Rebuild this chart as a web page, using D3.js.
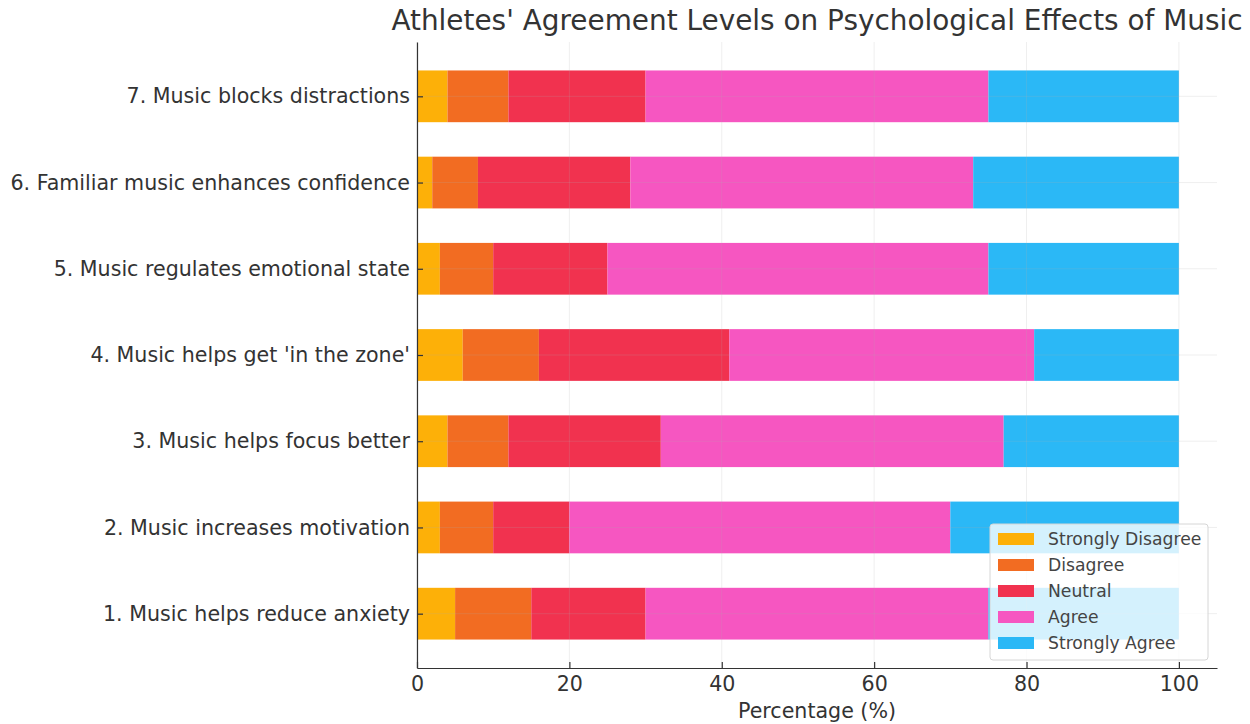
<!DOCTYPE html>
<html><head><meta charset="utf-8">
<script src="https://cdn.jsdelivr.net/npm/d3@7"></script>
<style>body{margin:0;background:#fff;}svg{display:block;font-family:"DejaVu Sans",sans-serif;}</style>
</head><body>
<svg id="chart" width="1250" height="724"></svg>
<script>
const title = "Athletes' Agreement Levels on Psychological Effects of Music";
const xLabel = "Percentage (%)";
const statements = [
  "1. Music helps reduce anxiety",
  "2. Music increases motivation",
  "3. Music helps focus better",
  "4. Music helps get 'in the zone'",
  "5. Music regulates emotional state",
  "6. Familiar music enhances confidence",
  "7. Music blocks distractions"
];
const levels = ["Strongly Disagree", "Disagree", "Neutral", "Agree", "Strongly Agree"];
const stronglyDisagree = [5, 3, 4, 6, 3, 2, 4];
const disagree         = [10, 7, 8, 10, 7, 6, 8];
const neutral          = [15, 10, 20, 25, 15, 20, 18];
const agree            = [45, 50, 45, 40, 50, 45, 45];
const stronglyAgree    = [25, 30, 23, 19, 25, 27, 25];
const xTicks = [0, 20, 40, 60, 80, 100];
const colors = ["#FDB008", "#F26C22", "#F1324F", "#F656C1", "#2BB8F6"];

(function () {
const series = [stronglyDisagree, disagree, neutral, agree, stronglyAgree];
const rows = statements.map((s, i) => {
  const r = {statement: s, idx: i};
  levels.forEach((l, k) => r[l] = series[k][i]);
  return r;
});
const stacked = d3.stack().keys(levels)(rows);

const svg = d3.select("#chart");
const mLeft = 417, mRight = 1217, mTop = 42, mBottom = 668;
const x = d3.scaleLinear().domain([0, 105]).range([mLeft, mRight]);
const y = d3.scaleLinear().domain([-0.63, 6.63]).range([mBottom, mTop]);
const barH = (y(0) - y(0.6));
const color = d3.scaleOrdinal().domain(levels).range(colors);
const txt = "#333";
const fs = 20.6;

// bars
svg.append("g").selectAll("g").data(stacked).join("g")
  .attr("fill", d => color(d.key))
  .selectAll("rect").data(d => d).join("rect")
  .attr("x", d => x(d[0]))
  .attr("width", d => x(d[1]) - x(d[0]))
  .attr("y", d => y(d.data.idx) - barH / 2)
  .attr("height", barH);

// grid (drawn above bars, faint)
const grid = svg.append("g").attr("stroke", "#b0b0b0").attr("stroke-opacity", 0.25).attr("stroke-width", 0.8);
xTicks.forEach(t => grid.append("line").attr("x1", x(t)).attr("x2", x(t)).attr("y1", mTop).attr("y2", mBottom));
statements.forEach((s, i) => grid.append("line").attr("x1", mLeft).attr("x2", mRight).attr("y1", y(i)).attr("y2", y(i)));

// x axis
const xAxis = d3.axisBottom(x).tickValues(xTicks).tickSizeInner(-6).tickSizeOuter(0).tickPadding(8);
const gx = svg.append("g").attr("transform", `translate(0,${mBottom})`).call(xAxis);
gx.select(".domain").attr("stroke", txt).attr("stroke-width", 1.2);
gx.selectAll(".tick line").attr("stroke", txt).attr("stroke-width", 1.2);
gx.selectAll("text").attr("font-size", fs).attr("fill", txt).attr("font-family", "DejaVu Sans").attr("dy", "0.71em");

// y axis
const yAxis = d3.axisLeft(y).tickValues(d3.range(statements.length)).tickFormat(i => statements[i])
  .tickSizeInner(-6).tickSizeOuter(0).tickPadding(7);
const gy = svg.append("g").attr("transform", `translate(${mLeft},0)`).call(yAxis);
gy.select(".domain").attr("stroke", txt).attr("stroke-width", 1.2);
gy.selectAll(".tick line").attr("stroke", txt).attr("stroke-width", 1.2);
gy.selectAll("text").attr("font-size", fs).attr("fill", txt).attr("font-family", "DejaVu Sans");

// x label
svg.append("text").attr("x", (mLeft + mRight) / 2).attr("y", 718).attr("text-anchor", "middle")
  .attr("font-size", fs).attr("fill", txt).text(xLabel);

// title
svg.append("text").attr("x", (mLeft + mRight) / 2).attr("y", 30).attr("text-anchor", "middle")
  .attr("font-size", 27.9).attr("fill", txt).text(title);

// legend
const lg = svg.append("g").attr("transform", "translate(990,524)");
lg.append("rect").attr("width", 218).attr("height", 136).attr("rx", 3)
  .attr("fill", "#fff").attr("fill-opacity", 0.8).attr("stroke", "#d6d6d6");
levels.forEach((l, k) => {
  const g = lg.append("g").attr("transform", `translate(8,${15 + k * 26})`);
  g.append("rect").attr("x", 0).attr("y", -6).attr("width", 36).attr("height", 12).attr("fill", color(l));
  g.append("text").attr("x", 50).attr("y", 6).attr("font-size", 17.2).attr("fill", "#444").text(l);
});
})();
</script>
</body></html>
